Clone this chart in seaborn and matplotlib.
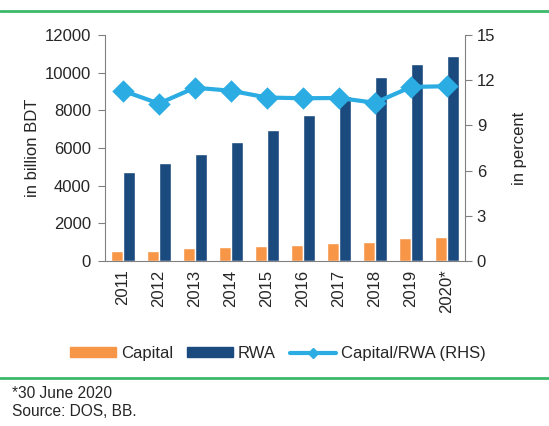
import numpy as np
import pandas as pd
import matplotlib
matplotlib.use('Agg')
import matplotlib.pyplot as plt
from matplotlib.lines import Line2D
from matplotlib.patches import Patch
import seaborn as sns

years = ['2011', '2012', '2013', '2014', '2015', '2016', '2017', '2018', '2019', '2020*']
capital = [550, 550, 675, 725, 780, 850, 955, 1025, 1220, 1275]
rwa = [4710, 5190, 5665, 6300, 6955, 7735, 8760, 9755, 10460, 10885]
ratio = [11.3, 10.45, 11.5, 11.3, 10.85, 10.8, 10.82, 10.5, 11.55, 11.6]

c_cap = '#F79646'
c_rwa = '#1B4A7E'
c_line = '#2BACE2'
grey = '#808080'

sns.set_style('white')
plt.rcParams['font.family'] = ['Liberation Sans', 'DejaVu Sans']
plt.rcParams['font.size'] = 12

df = pd.DataFrame({'year': years * 2,
                   'value': capital + rwa,
                   'series': ['Capital'] * len(years) + ['RWA'] * len(years)})

fig = plt.figure(figsize=(5.49, 4.26), dpi=100)
ax = fig.add_axes([0.191, 0.387, 0.656, 0.531])

sns.barplot(data=df, x='year', y='value', hue='series', palette=[c_cap, c_rwa],
            width=0.67, gap=0, saturation=1, ax=ax, legend=False)
ax.set_xlim(-0.5, len(years) - 0.5)
ax.set_ylim(0, 12000)
ax.set_yticks(range(0, 12001, 2000))
ax.set_xlabel('')
ax.set_ylabel('in billion BDT', fontsize=12, labelpad=3)
ax.tick_params(axis='x', length=0, rotation=90, labelsize=12, pad=6)
ax.set_xticks(np.arange(len(years) + 1) - 0.5, minor=True)
ax.tick_params(axis='x', which='minor', length=5, color=grey, direction='out')
ax.tick_params(axis='y', length=5, color=grey, direction='out', labelsize=12, left=True, pad=5)
for s in ['left', 'bottom']:
    ax.spines[s].set_color(grey)
ax.spines['top'].set_visible(False)
ax.spines['right'].set_visible(False)

ax2 = ax.twinx()
sns.pointplot(x=years, y=ratio, color=c_line, markers='D', linestyles='-',
              ax=ax2, markersize=9, linewidth=3)
ax2.set_xlim(-0.5, len(years) - 0.5)
ax2.set_ylim(0, 15)
ax2.set_yticks([0, 3, 6, 9, 12, 15])
ax2.set_ylabel('in percent', fontsize=12, labelpad=12)
ax2.tick_params(axis='y', length=5, color=grey, direction='out', labelsize=12, right=True)
ax2.spines['right'].set_color(grey)
for s in ['left', 'bottom', 'top']:
    ax2.spines[s].set_visible(False)

handles = [Patch(color=c_cap), Patch(color=c_rwa),
           Line2D([], [], color=c_line, lw=3, marker='D', markersize=5)]
fig.legend(handles, ['Capital', 'RWA', 'Capital/RWA (RHS)'], loc='center',
           bbox_to_anchor=(0.506, 0.170), ncol=3, frameon=False, fontsize=12,
           handlelength=2.75, handleheight=0.55, columnspacing=0.85, handletextpad=0.3)

green = '#3DB86B'
fig.add_artist(Line2D([0, 1], [0.975, 0.975], color=green, lw=2))
fig.add_artist(Line2D([0, 1], [0.113, 0.113], color=green, lw=2))
fig.text(0.022, 0.077, '*30 June 2020', fontsize=11.2, va='center')
fig.text(0.022, 0.035, 'Source: DOS, BB.', fontsize=11.2, va='center')

fig.savefig('out.png', dpi=100)
